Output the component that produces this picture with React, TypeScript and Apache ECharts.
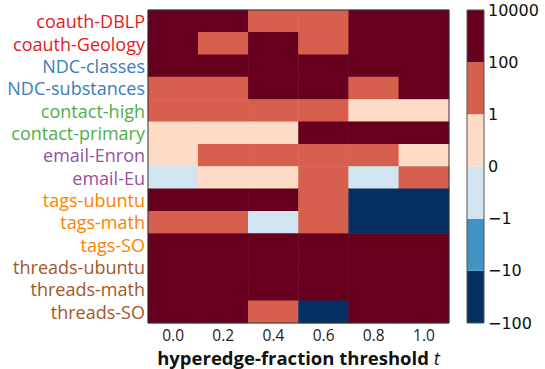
import React, { useEffect, useRef } from "react";
import * as echarts from "echarts";

// Threshold values along the x axis
const thresholds = ["0.0", "0.2", "0.4", "0.6", "0.8", "1.0"];

// Dataset names (rows, top to bottom) and their label colours by family
const datasets = [
  "coauth-DBLP",
  "coauth-Geology",
  "NDC-classes",
  "NDC-substances",
  "contact-high",
  "contact-primary",
  "email-Enron",
  "email-Eu",
  "tags-ubuntu",
  "tags-math",
  "tags-SO",
  "threads-ubuntu",
  "threads-math",
  "threads-SO",
];
const datasetColors = [
  "#e41a1c", "#e41a1c",
  "#377eb8", "#377eb8",
  "#4daf4a", "#4daf4a",
  "#984ea3", "#984ea3",
  "#ff7f00", "#ff7f00", "#ff7f00",
  "#a65628", "#a65628", "#a65628",
];

// Cell values per dataset, one per threshold
const coauthDBLP = [1000, 1000, 10, 10, 1000, 1000];
const coauthGeology = [1000, 10, 1000, 10, 1000, 1000];
const ndcClasses = [1000, 1000, 1000, 1000, 1000, 1000];
const ndcSubstances = [10, 10, 1000, 1000, 10, 1000];
const contactHigh = [10, 10, 10, 10, 0.5, 0.5];
const contactPrimary = [0.5, 0.5, 0.5, 1000, 1000, 1000];
const emailEnron = [0.5, 10, 10, 10, 10, 0.5];
const emailEu = [-0.5, 0.5, 0.5, 10, -0.5, 10];
const tagsUbuntu = [1000, 1000, 1000, 10, -50, -50];
const tagsMath = [10, 10, -0.5, 10, -50, -50];
const tagsSO = [1000, 1000, 1000, 1000, 1000, 1000];
const threadsUbuntu = [1000, 1000, 1000, 1000, 1000, 1000];
const threadsMath = [1000, 1000, 1000, 1000, 1000, 1000];
const threadsSO = [1000, 1000, 10, -50, 1000, 1000];

const rows = [
  coauthDBLP, coauthGeology, ndcClasses, ndcSubstances,
  contactHigh, contactPrimary, emailEnron, emailEu,
  tagsUbuntu, tagsMath, tagsSO, threadsUbuntu, threadsMath, threadsSO,
];

// Colour bins (edges and colours) and colourbar tick labels
const binEdges = [-100, -10, -1, 0, 1, 100, 10000];
const binColors = ["#053061", "#4393c3", "#d1e5f0", "#fddbc7", "#d6604d", "#67001f"];
const binTickLabels = ["\u2212100", "\u221210", "\u22121", "0", "1", "100", "10000"];

const PLOT = { left: 148, top: 10, width: 301, height: 313 };
const BAR = { left: 467, top: 10, width: 17, height: 313 };

export default function App() {
  const ref = useRef<HTMLDivElement>(null);

  useEffect(() => {
    document.body.style.margin = "0";
    if (!ref.current) return;
    const chart = echarts.init(ref.current, null, { renderer: "svg" });

    const cells: [number, number, number][] = [];
    rows.forEach((r, yi) => r.forEach((v, xi) => cells.push([xi, yi, v])));

    const pieces = binColors.map((c, i) => ({
      gte: binEdges[i],
      lt: binEdges[i + 1],
      color: c,
    }));

    const colorbarSeries = binColors.map((c, i) => ({
      type: "bar" as const,
      xAxisIndex: 1,
      yAxisIndex: 1,
      stack: "bins",
      data: [1],
      barWidth: "100%",
      itemStyle: { color: c },
      silent: true,
      name: `${binEdges[i]}..${binEdges[i + 1]}`,
    }));

    chart.setOption({
      animation: false,
      textStyle: { fontFamily: "Open Sans" },
      grid: [
        { ...PLOT, containLabel: false, outerBoundsMode: "none" },
        { ...BAR, containLabel: false, outerBoundsMode: "none" },
      ],
      xAxis: [
        {
          type: "category",
          gridIndex: 0,
          data: thresholds,
          axisLine: { show: false },
          axisTick: { show: false },
          axisLabel: { color: "#222", fontSize: 15.5, margin: 4, interval: 0, fontFamily: "Open Sans" },
          name: "{b|hyperedge-fraction threshold }{i|t}",
          nameLocation: "middle",
          nameGap: 24,
          nameTextStyle: {
            rich: {
              b: { fontSize: 18.5, fontWeight: "bold", color: "#111", fontFamily: "Open Sans" },
              i: { fontSize: 18.5, fontStyle: "italic", color: "#111", fontFamily: "Open Sans" },
            },
          },
        },
        {
          type: "category",
          gridIndex: 1,
          data: ["bins"],
          show: false,
        },
      ],
      yAxis: [
        {
          type: "category",
          gridIndex: 0,
          data: datasets,
          inverse: true,
          axisLine: { show: false },
          axisTick: { show: false },
          axisLabel: {
            fontSize: 18,
            margin: 3,
            interval: 0,
            hideOverlap: false,
            fontFamily: "Open Sans",
            color: (_v: string, i: number) => datasetColors[i],
          },
        },
        {
          type: "value",
          gridIndex: 1,
          position: "right",
          min: 0,
          max: 6,
          interval: 1,
          splitLine: { show: false },
          axisLine: { show: false },
          axisTick: { show: false },
          axisLabel: {
            fontSize: 16,
            margin: 4,
            color: "#111",
            fontFamily: "DejaVu Sans",
            formatter: (v: number) => binTickLabels[v] ?? "",
          },
        },
      ],
      visualMap: {
        type: "piecewise",
        show: false,
        seriesIndex: 0,
        dimension: 2,
        pieces,
      },
      series: [
        {
          type: "heatmap",
          xAxisIndex: 0,
          yAxisIndex: 0,
          data: cells,
          itemStyle: { borderWidth: 0 },
          emphasis: { disabled: true },
        },
        ...colorbarSeries,
      ],
      graphic: [
        {
          type: "rect",
          shape: { x: PLOT.left, y: PLOT.top, width: PLOT.width, height: PLOT.height },
          style: { fill: "none", stroke: "#333", lineWidth: 1 },
          z: 100,
          silent: true,
        },
        {
          type: "rect",
          shape: { x: BAR.left, y: BAR.top, width: BAR.width, height: BAR.height },
          style: { fill: "none", stroke: "#555", lineWidth: 1 },
          z: 100,
          silent: true,
        },
      ],
    });

    return () => chart.dispose();
  }, []);

  return <div ref={ref} style={{ width: 545, height: 369 }} />;
}
